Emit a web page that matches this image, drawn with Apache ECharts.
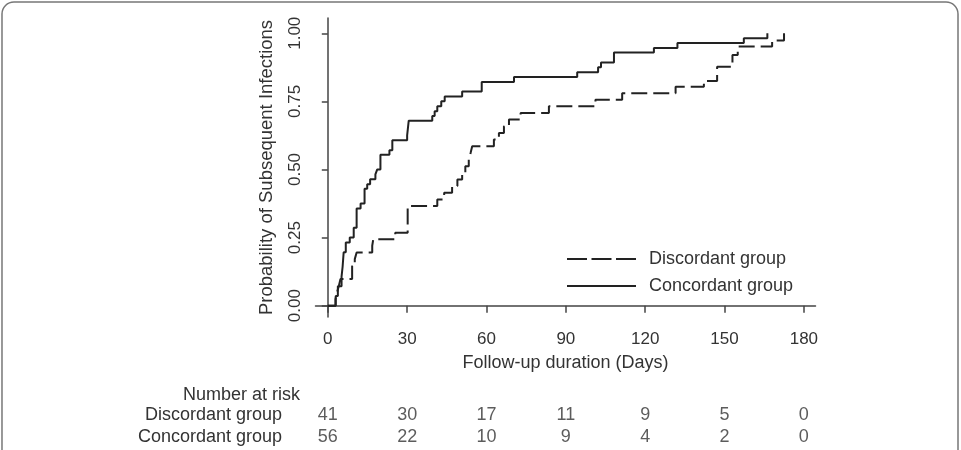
<!DOCTYPE html>
<html>
<head>
<meta charset="utf-8">
<script src="https://cdn.jsdelivr.net/npm/echarts@6/dist/echarts.min.js"></script>
<style>
  html, body { margin: 0; padding: 0; background: #fff; }
  #chart { width: 961px; height: 450px; }
</style>
</head>
<body>
<div id="chart"></div>
<script>
// cumulative probability of subsequent infection
const concordantDays = [0, 3, 3.8, 5.2, 5.6, 6.0, 6.8, 8.3, 9.8, 10.9, 12.4, 13.9, 14.9, 16, 18, 18.7, 19.9, 23.3, 24.4, 30, 30.6, 39.5, 40.4, 41.4, 42.9, 44.2, 50.8, 58.2, 70.4, 94.3, 102.2, 103.3, 108.2, 123.3, 132.2, 157.3, 166.2];
const concordantProb = [0, 0.036, 0.071, 0.107, 0.143, 0.196, 0.232, 0.25, 0.286, 0.357, 0.375, 0.429, 0.446, 0.464, 0.482, 0.5, 0.554, 0.571, 0.607, 0.625, 0.679, 0.696, 0.714, 0.732, 0.75, 0.768, 0.786, 0.821, 0.839, 0.857, 0.875, 0.893, 0.929, 0.946, 0.964, 0.982, 1.0];

const discordantDays = [0, 2.9, 3.5, 4.2, 4.8, 9.2, 10.2, 10.9, 16.8, 17.2, 25.5, 30.2, 41.4, 44, 47, 49, 50.8, 52, 53.3, 54, 54.6, 62.8, 64.7, 66.6, 68.5, 72.9, 83.6, 101.2, 111.3, 131.5, 142.2, 147.2, 153, 155, 168, 172.5];
const discordantProb = [0, 0.024, 0.049, 0.073, 0.098, 0.146, 0.171, 0.195, 0.22, 0.244, 0.268, 0.366, 0.39, 0.415, 0.439, 0.463, 0.488, 0.512, 0.537, 0.561, 0.585, 0.61, 0.634, 0.659, 0.683, 0.707, 0.732, 0.756, 0.78, 0.804, 0.825, 0.877, 0.92, 0.951, 0.973, 1.0];

// number at risk table
const riskDays = [0, 30, 60, 90, 120, 150, 180];
const discordantRisk = [41, 30, 17, 11, 9, 5, 0];
const concordantRisk = [56, 22, 10, 9, 4, 2, 0];

const xTicks = [0, 30, 60, 90, 120, 150, 180];
const yTicks = [0, 0.25, 0.5, 0.75, 1];

const FONT = "'Liberation Sans', Arial, sans-serif";
const INK = '#333';

function zip(xs, ys) {
  return xs.map((x, i) => [x, ys[i]]);
}

const chart = echarts.init(document.getElementById('chart'));
chart.setOption({
  animation: false,
  backgroundColor: '#fff',
  textStyle: { fontFamily: FONT },
  title: {
    text: 'Number at risk',
    left: 183,
    top: 386,
    padding: 0,
    textStyle: { fontSize: 18, fontWeight: 'normal', color: INK, fontFamily: FONT }
  },
  graphic: [{
    type: 'rect',
    silent: true,
    shape: { x: 2, y: 2, width: 956, height: 470, r: 12 },
    style: { fill: 'none', stroke: '#777', lineWidth: 1.5 }
  }],
  legend: {
    orient: 'vertical',
    left: 566,
    top: 250,
    itemWidth: 69,
    itemHeight: 10,
    itemGap: 9,
    padding: 0,
    data: [
      { name: 'Discordant group', lineStyle: { type: [20, 4.5] } },
      { name: 'Concordant group' }
    ],
    itemStyle: { opacity: 0 },
    textStyle: { fontSize: 18, color: INK, fontFamily: FONT, padding: [0, 0, 0, 8] }
  },
  grid: [
    { left: 315.5, top: 18, width: 500, height: 299 },
    { left: 315.5, top: 404.5, width: 500, height: 44 }
  ],
  xAxis: [{
    gridIndex: 0,
    type: 'value',
    min: -4.65,
    max: 184.4,
    name: 'Follow-up duration (Days)',
    nameLocation: 'middle',
    nameGap: 37,
    nameTextStyle: { fontSize: 18, color: INK, fontFamily: FONT },
    axisLine: { show: true, lineStyle: { color: '#444', width: 1.5 } },
    axisTick: { show: true, length: 7, customValues: xTicks, lineStyle: { color: '#444', width: 1.5 } },
    axisLabel: { customValues: xTicks, fontSize: 17, color: INK, margin: 14, fontFamily: FONT },
    splitLine: { show: false }
  }, {
    gridIndex: 1,
    type: 'value',
    min: -4.65,
    max: 184.4,
    show: false
  }],
  yAxis: [{
    gridIndex: 0,
    type: 'value',
    min: -0.0415,
    max: 1.056,
    name: 'Probability of Subsequent Infections',
    nameLocation: 'middle',
    nameRotate: 90,
    nameGap: 39,
    nameTextStyle: { fontSize: 18.5, color: INK, fontFamily: FONT },
    axisLine: { show: true, lineStyle: { color: '#444', width: 1.5 } },
    axisTick: { show: true, length: 6, customValues: yTicks, lineStyle: { color: '#444', width: 1.5 } },
    axisLabel: {
      customValues: yTicks,
      rotate: 90,
      fontSize: 17,
      color: INK,
      margin: 12,
      fontFamily: FONT,
      formatter: v => v.toFixed(2)
    },
    splitLine: { show: false }
  }, {
    gridIndex: 1,
    type: 'category',
    inverse: true,
    data: ['Discordant group', 'Concordant group'],
    axisLine: { show: false },
    axisTick: { show: false },
    axisLabel: { interval: 0, fontSize: 18, color: INK, margin: 33.5, fontFamily: FONT }
  }],
  series: [
    {
      name: 'Discordant group',
      type: 'line',
      step: 'end',
      symbol: 'none',
      data: zip(discordantDays, discordantProb),
      lineStyle: { color: '#222', width: 2, type: [16, 6] },
      itemStyle: { color: '#222' }
    },
    {
      name: 'Concordant group',
      type: 'line',
      step: 'end',
      symbol: 'none',
      data: zip(concordantDays, concordantProb),
      lineStyle: { color: '#222', width: 2 },
      itemStyle: { color: '#222' }
    },
    {
      type: 'scatter',
      xAxisIndex: 1,
      yAxisIndex: 1,
      symbolSize: 0,
      data: riskDays.map((d, i) => [d, 0, discordantRisk[i]])
        .concat(riskDays.map((d, i) => [d, 1, concordantRisk[i]])),
      label: {
        show: true,
        position: 'inside',
        fontSize: 18,
        color: INK,
        fontFamily: FONT,
        formatter: p => String(p.value[2])
      }
    }
  ]
});
</script>
</body>
</html>
